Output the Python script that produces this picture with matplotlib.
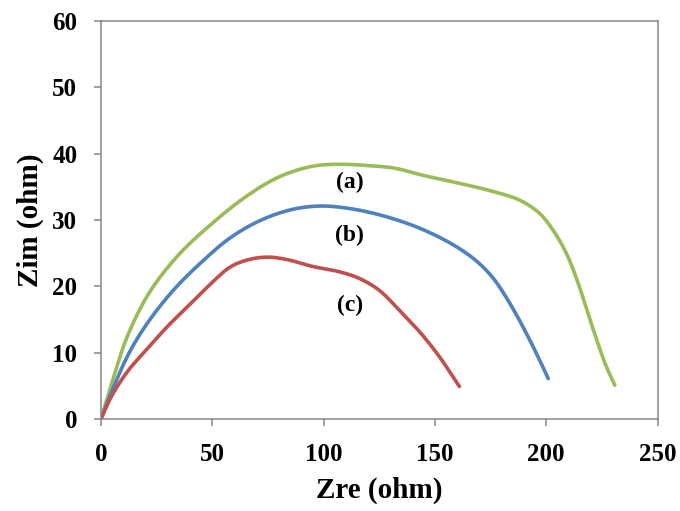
import numpy as np
import matplotlib
matplotlib.use("Agg")
import matplotlib.pyplot as plt

# Nyquist curves, values
zre_a = [0, 5, 12, 22, 35, 50, 65, 80, 95, 107, 120, 132, 145, 160, 175, 188, 197, 203,
         209, 214, 218.5, 223, 227, 230.8]
zim_a = [0, 5.6, 12.6, 19.2, 24.8, 29.5, 33.5, 36.5, 38.1, 38.4, 38.2, 37.8, 36.7, 35.6,
         34.4, 33.0, 31.0, 28.5, 25.0, 20.8, 16.2, 11.6, 7.9, 5.1]

zre_b = [0, 5, 13, 22, 33, 45, 58, 72, 86, 98, 108, 120, 133, 145, 158, 168, 176, 183,
         190, 196, 200.9]
zim_b = [0, 4.3, 10.2, 15.0, 19.6, 23.6, 27.3, 30.0, 31.6, 32.1, 31.9, 31.2, 30.0, 28.5,
         26.3, 24.0, 21.3, 17.8, 13.6, 9.6, 6.1]

zre_c = [0, 5, 12, 20, 30, 40, 50, 58, 66, 75, 84, 95, 107, 116, 125, 134, 143, 152,
         158, 161]
zim_c = [0, 3.6, 7.2, 10.3, 14.0, 17.3, 20.6, 22.9, 24.0, 24.4, 24.0, 23.0, 22.2, 21.2,
         19.4, 16.4, 13.2, 9.4, 6.4, 4.9]

labels = ["(a)", "(b)", "(c)"]
label_x = [111.8, 111.8, 111.8]
label_y = [35.6, 27.7, 17.1]

colors = ["#9BBB59", "#4F81BD", "#C0504D"]
serif = "Liberation Serif"


def smooth(x, y, n=16):
    # centripetal catmull-rom in pixel-ish space, similar to excel smoothed lines
    p = np.column_stack([np.asarray(x) * 2.227, np.asarray(y) * 6.633]).astype(float)
    p = np.vstack([2 * p[0] - p[1], p, 2 * p[-1] - p[-2]])
    out = []
    for i in range(1, len(p) - 2):
        p0, p1, p2, p3 = p[i - 1], p[i], p[i + 1], p[i + 2]
        t0 = 0.0
        t1 = t0 + np.linalg.norm(p1 - p0) ** 0.5
        t2 = t1 + np.linalg.norm(p2 - p1) ** 0.5
        t3 = t2 + np.linalg.norm(p3 - p2) ** 0.5
        t = np.linspace(t1, t2, n, endpoint=False)[:, None]
        a1 = (t1 - t) / (t1 - t0) * p0 + (t - t0) / (t1 - t0) * p1
        a2 = (t2 - t) / (t2 - t1) * p1 + (t - t1) / (t2 - t1) * p2
        a3 = (t3 - t) / (t3 - t2) * p2 + (t - t2) / (t3 - t2) * p3
        b1 = (t2 - t) / (t2 - t0) * a1 + (t - t0) / (t2 - t0) * a2
        b2 = (t3 - t) / (t3 - t1) * a2 + (t - t1) / (t3 - t1) * a3
        out.append((t2 - t) / (t2 - t1) * b1 + (t - t1) / (t2 - t1) * b2)
    out.append(p[-2][None, :])
    out = np.vstack(out)
    return out[:, 0] / 2.227, out[:, 1] / 6.633


fig = plt.figure(figsize=(6.8, 5.11), dpi=100)
ax = fig.add_axes([0.1485, 0.180, 0.8185, 0.779])

for x, y, c in zip([zre_a, zre_b, zre_c], [zim_a, zim_b, zim_c], colors):
    sx, sy = smooth(x, y)
    ax.plot(sx, sy, color=c, lw=2.6, solid_capstyle="round", solid_joinstyle="round")

for t, x, y in zip(labels, label_x, label_y):
    ax.text(x, y, t, ha="center", va="center", fontsize=17, fontweight="bold", family=serif)

ax.set_xlim(0, 250)
ax.set_ylim(0, 60)
ax.set_xticks(np.arange(0, 251, 50))
ax.set_yticks(np.arange(0, 61, 10))

for s in ax.spines.values():
    s.set_color("#868686")
    s.set_linewidth(1.1)
ax.tick_params(direction="out", length=5, width=1.1, color="#868686", pad=12)
for lab in ax.get_xticklabels() + ax.get_yticklabels():
    lab.set_family(serif)
    lab.set_fontweight("bold")
    lab.set_fontsize(18)

ax.set_xlabel("Zre (ohm)", family=serif, fontweight="bold", fontsize=21, labelpad=8)
ax.set_ylabel("Zim (ohm)", family=serif, fontweight="bold", fontsize=21, labelpad=6)

fig.savefig("out.png", dpi=100)
